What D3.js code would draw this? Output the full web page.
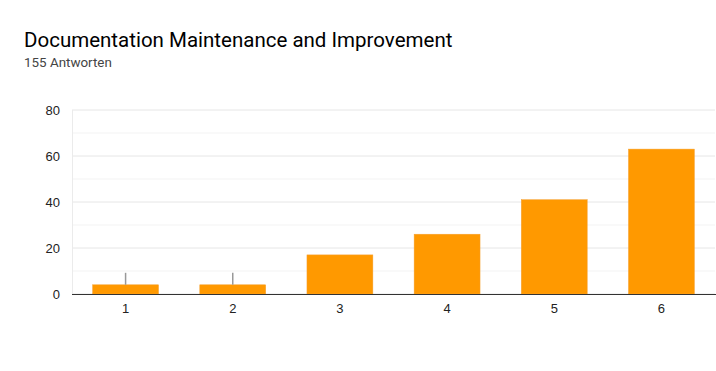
<!DOCTYPE html>
<html>
<head>
<meta charset="utf-8">
<script src="https://cdn.jsdelivr.net/npm/d3@7"></script>
<style>
	body { margin: 0; background: #fff; }
	svg { display: block; }
</style>
</head>
<body>
<div id="chart"></div>
<script>
// chart data
let title = 'Documentation Maintenance and Improvement'
let subtitle = '155 Antworten'
let categories = ['1', '2', '3', '4', '5', '6']
let counts = [4, 4, 17, 26, 41, 63]
let yTicks = [0, 20, 40, 60, 80]
let yMinorTicks = [10, 30, 50, 70]

let width = 716
let height = 371
let margin = { top: 110, right: 1, bottom: 77, left: 72 }

let svg = d3
	.select('#chart')
	.append('svg:svg')
	.attr('width', width)
	.attr('height', height)

svg.append('svg:text')
	.attr('x', 24)
	.attr('y', 47)
	.attr('font-family', 'Roboto')
	.attr('font-size', 20.5)
	.attr('fill', '#000')
	.text(title)

svg.append('svg:text')
	.attr('x', 24)
	.attr('y', 67)
	.attr('font-family', 'Roboto')
	.attr('font-size', 13.4)
	.attr('fill', '#444')
	.text(subtitle)

let x = d3
	.scaleBand()
	.domain(categories)
	.range([margin.left, width - margin.right])
	.paddingInner(0.385)
	.paddingOuter(0.1925)

let y = d3
	.scaleLinear()
	.domain([0, 80])
	.range([height - margin.bottom, margin.top])

// minor grid
svg.append('g')
	.selectAll('line')
	.data(yMinorTicks)
	.join('line')
	.attr('x1', margin.left)
	.attr('x2', width - margin.right)
	.attr('y1', d => y(d))
	.attr('y2', d => y(d))
	.attr('stroke', '#f3f3f3')

// major grid
svg.append('g')
	.selectAll('line')
	.data(yTicks)
	.join('line')
	.attr('x1', margin.left)
	.attr('x2', width - margin.right)
	.attr('y1', d => y(d))
	.attr('y2', d => y(d))
	.attr('stroke', '#e6e6e6')

// left border of plot
svg.append('svg:line')
	.attr('x1', margin.left + 0.5)
	.attr('x2', margin.left + 0.5)
	.attr('y1', y(80))
	.attr('y2', y(0))
	.attr('stroke', '#ebebeb')

// y labels
let yAxis = svg
	.append('g')
	.attr('transform', `translate(${margin.left - 12},0)`)
	.call(d3.axisLeft(y).tickValues(yTicks).tickSize(0).tickPadding(0))
yAxis.select('.domain').remove()
yAxis.selectAll('text')
	.attr('font-family', 'Arial, Liberation Sans')
	.attr('font-size', 13)
	.attr('fill', '#222')

// bars
svg.append('g')
	.selectAll('rect')
	.data(counts)
	.join('rect')
	.attr('x', (d, i) => x(categories[i]))
	.attr('y', d => y(d))
	.attr('width', x.bandwidth())
	.attr('height', d => y(0) - y(d))
	.attr('fill', '#ff9900')
	.attr('stroke', '#f5a030')
	.attr('stroke-width', 0.5)

// annotation stems on the small bars
svg.append('g')
	.selectAll('line')
	.data(counts.map((d, i) => ({ d, i })).filter(o => o.d < 10))
	.join('line')
	.attr('x1', o => x(categories[o.i]) + x.bandwidth() / 2)
	.attr('x2', o => x(categories[o.i]) + x.bandwidth() / 2)
	.attr('y1', o => y(o.d))
	.attr('y2', o => y(o.d) - 12)
	.attr('stroke', '#999')
	.attr('stroke-width', 1.5)

// baseline
svg.append('svg:line')
	.attr('x1', margin.left)
	.attr('x2', width)
	.attr('y1', y(0) + 0.5)
	.attr('y2', y(0) + 0.5)
	.attr('stroke', '#333')
	.attr('stroke-width', 1.2)

// x labels
let xAxis = svg
	.append('g')
	.attr('transform', `translate(0,${y(0)})`)
	.call(d3.axisBottom(x).tickSize(0).tickPadding(10))
xAxis.select('.domain').remove()
xAxis.selectAll('text')
	.attr('font-family', 'Arial, Liberation Sans')
	.attr('font-size', 13)
	.attr('fill', '#222')
</script>
</body>
</html>
